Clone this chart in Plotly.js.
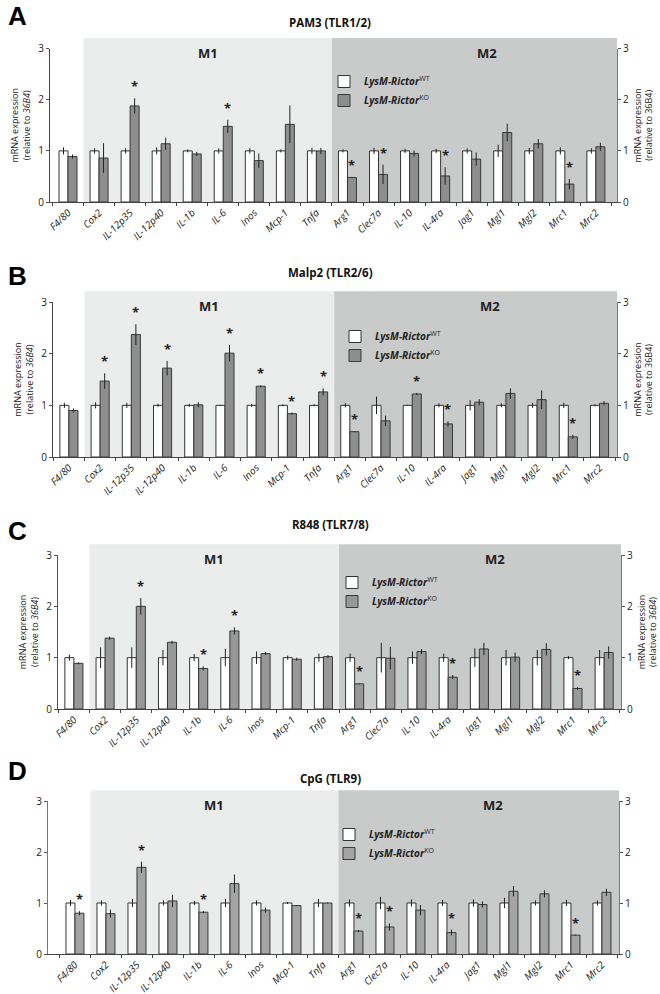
<!DOCTYPE html>
<html>
<head>
<meta charset="utf-8">
<script src="https://cdn.plot.ly/plotly-3.0.1.min.js"></script>
<style>
body { margin: 0; background: #fff; }
#chart { width: 660px; height: 994px; }
</style>
</head>
<body>
<div id="chart"></div>
<script>
/* genes on the x axis, F4/80 + M1 markers, then M2 markers */
var genes = ['F4/80', 'Cox2', 'IL-12p35', 'IL-12p40', 'IL-1b', 'IL-6', 'Inos', 'Mcp-1', 'Tnfa',
             'Arg1', 'Clec7a', 'IL-10', 'IL-4ra', 'Jag1', 'Mgl1', 'Mgl2', 'Mrc1', 'Mrc2'];

/* WT is the reference, always 1 */
var wtMean = [1, 1, 1, 1, 1, 1, 1, 1, 1, 1, 1, 1, 1, 1, 1, 1, 1, 1];

/* A - PAM3 (TLR1/2) */
var pam3WtErr = [0.07, 0.05, 0.05, 0.07, 0.03, 0.05, 0.05, 0.03, 0.06, 0.03, 0.06, 0.04, 0.04, 0.05, 0.12, 0.06, 0.07, 0.05];
var pam3Ko    = [0.89, 0.86, 1.88, 1.14, 0.94, 1.48, 0.81, 1.52, 1.00, 0.48, 0.54, 0.95, 0.51, 0.84, 1.36, 1.14, 0.35, 1.08];
var pam3KoErr = [0.04, 0.29, 0.15, 0.12, 0.04, 0.13, 0.14, 0.37, 0.06, 0.01, 0.19, 0.06, 0.17, 0.13, 0.17, 0.09, 0.10, 0.08];
var pam3Sig   = ['IL-12p35', 'IL-6', 'Arg1', 'Clec7a', 'IL-4ra', 'Mrc1'];

/* B - Malp2 (TLR2/6) */
var malp2WtErr = [0.05, 0.06, 0.05, 0.03, 0.03, 0.01, 0.03, 0.02, 0.02, 0.04, 0.17, 0.01, 0.04, 0.10, 0.04, 0.05, 0.05, 0.02];
var malp2Ko    = [0.90, 1.47, 2.37, 1.72, 1.01, 2.01, 1.37, 0.84, 1.26, 0.49, 0.70, 1.22, 0.64, 1.06, 1.23, 1.11, 0.39, 1.04];
var malp2KoErr = [0.04, 0.15, 0.20, 0.14, 0.05, 0.16, 0.02, 0.02, 0.07, 0.01, 0.10, 0.02, 0.05, 0.06, 0.10, 0.18, 0.04, 0.04];
var malp2Sig   = ['Cox2', 'IL-12p35', 'IL-12p40', 'IL-6', 'Inos', 'Mcp-1', 'Tnfa', 'Arg1', 'IL-10', 'IL-4ra', 'Mrc1'];

/* C - R848 (TLR7/8) */
var r848WtErr = [0.06, 0.20, 0.20, 0.15, 0.07, 0.17, 0.12, 0.04, 0.08, 0.08, 0.29, 0.12, 0.08, 0.18, 0.15, 0.15, 0.03, 0.15];
var r848Ko    = [0.89, 1.38, 2.00, 1.30, 0.79, 1.52, 1.08, 0.97, 1.02, 0.49, 0.99, 1.12, 0.62, 1.17, 1.01, 1.16, 0.40, 1.10];
var r848KoErr = [0.02, 0.03, 0.16, 0.03, 0.04, 0.07, 0.03, 0.03, 0.03, 0.01, 0.22, 0.05, 0.04, 0.12, 0.09, 0.12, 0.03, 0.12];
var r848Sig   = ['IL-12p35', 'IL-1b', 'IL-6', 'Arg1', 'IL-4ra', 'Mrc1'];

/* D - CpG (TLR9) */
var cpgWtErr = [0.06, 0.05, 0.08, 0.05, 0.04, 0.08, 0.05, 0.02, 0.08, 0.07, 0.12, 0.07, 0.06, 0.07, 0.10, 0.05, 0.06, 0.05];
var cpgKo    = [0.80, 0.79, 1.70, 1.04, 0.82, 1.38, 0.86, 0.95, 1.00, 0.45, 0.53, 0.86, 0.42, 0.97, 1.23, 1.18, 0.37, 1.21];
var cpgKoErr = [0.04, 0.08, 0.11, 0.12, 0.02, 0.18, 0.05, 0.01, 0.01, 0.02, 0.07, 0.10, 0.06, 0.06, 0.10, 0.07, 0.01, 0.07];
var cpgSig   = ['F4/80', 'IL-12p35', 'IL-1b', 'Arg1', 'Clec7a', 'IL-4ra', 'Mrc1'];

var W = 660, H = 994;
var FONT = 'Open Sans, Liberation Sans, sans-serif';
var titleL = 'mRNA expression<br>(relative to <i>36B4</i>)';
var titleR = 'mRNA expression<br>(relative to 36B4)';

/* page geometry in pixels: y of tick 3, y of tick 0, left/right axis x */
var panels = [
    { letter: 'A', title: 'PAM3 (TLR1/2)', wtErr: pam3WtErr, ko: pam3Ko, koErr: pam3KoErr, sig: pam3Sig,
      titleY: 23, letterY: 0, top3: 48.7, zero: 202, left: 50, right: 617, range: [-0.58, 17.68],
      legX: 324, legY: 67, yTitleL: titleL, yTitleR: titleR, koColor: '#8e8e8e', axColor: '#444' },
    { letter: 'B', title: 'Malp2 (TLR2/6)', wtErr: malp2WtErr, ko: malp2Ko, koErr: malp2KoErr, sig: malp2Sig,
      titleY: 272, letterY: 260, top3: 302, zero: 457, left: 53, right: 617, range: [-0.51, 17.56],
      legX: 335, legY: 322, yTitleL: titleL, yTitleR: titleR, koColor: '#8e8e8e', axColor: '#444' },
    { letter: 'C', title: 'R848 (TLR7/8)', wtErr: r848WtErr, ko: r848Ko, koErr: r848KoErr, sig: r848Sig,
      titleY: 524, letterY: 515, top3: 555, zero: 709, left: 58, right: 621, range: [-0.51, 17.54],
      legX: 332, legY: 568, yTitleL: titleL, yTitleR: titleL, koColor: '#989898', axColor: '#555' },
    { letter: 'D', title: 'CpG (TLR9)', wtErr: cpgWtErr, ko: cpgKo, koErr: cpgKoErr, sig: cpgSig,
      titleY: 778, letterY: 755, top3: 801, zero: 954, left: 48, right: 619, range: [-0.87, 17.55],
      legX: 329, legY: 820, yTitleL: null, yTitleR: null, koColor: '#a4a4a4', axColor: '#777' }
];

var data = [];
var shapes = [];
var annotations = [];
var layout = {
    width: W,
    height: H,
    margin: { l: 0, r: 0, t: 0, b: 0 },
    paper_bgcolor: '#fff',
    plot_bgcolor: 'rgba(0,0,0,0)',
    font: { family: FONT, color: '#222' },
    barmode: 'group',
    bargap: 0.42,
    bargroupgap: 0
};

function yAxis(extra) {
    var ax = {
        range: [0, 3],
        dtick: 1,
        ticks: 'outside',
        ticklen: 3,
        tickcolor: '#555',
        showline: true,
        linecolor: '#555',
        showgrid: false,
        zeroline: false,
        tickfont: { size: 10 },
        fixedrange: true
    };
    for (var key in extra) ax[key] = extra[key];
    return ax;
}

for (var k = 0; k < panels.length; k++) {
    var p = panels[k];
    var n = k === 0 ? '' : String(k + 1);
    var xId = 'x' + n;
    var yId = 'y' + n;
    var yRId = 'y' + (k + 5);
    var legId = 'legend' + n;

    data.push({
        type: 'bar',
        name: '<b><i>LysM-Rictor</i></b><sup>WT</sup>',
        x: genes,
        y: wtMean,
        xaxis: xId,
        yaxis: yId,
        legend: legId,
        marker: { color: '#ffffff', line: { color: '#333', width: 1 } },
        error_y: { type: 'data', array: p.wtErr, color: '#222', thickness: 1, width: 0 },
        hoverinfo: 'skip'
    });
    data.push({
        type: 'bar',
        name: '<b><i>LysM-Rictor</i></b><sup>KO</sup>',
        x: genes,
        y: p.ko,
        xaxis: xId,
        yaxis: yId,
        legend: legId,
        marker: { color: p.koColor, line: { color: '#3a3a3a', width: 1 } },
        error_y: { type: 'data', array: p.koErr, color: '#222', thickness: 1, width: 0 },
        hoverinfo: 'skip'
    });
    /* the right-hand axis only shows up if something sits on it */
    data.push({
        type: 'scatter',
        mode: 'markers',
        x: genes,
        y: wtMean,
        xaxis: xId,
        yaxis: yRId,
        marker: { opacity: 0 },
        showlegend: false,
        hoverinfo: 'skip'
    });

    layout['xaxis' + n] = {
        domain: [p.left / W, p.right / W],
        anchor: yId,
        type: 'category',
        range: p.range,
        tickson: 'boundaries',
        ticks: 'outside',
        ticklen: 3,
        tickcolor: '#444',
        showline: true,
        linecolor: '#444',
        linewidth: 1,
        tickangle: -45,
        tickfont: { size: 10, style: 'italic', color: '#222' },
        showgrid: false,
        zeroline: false,
        fixedrange: true
    };
    layout['yaxis' + n] = yAxis({
        domain: [1 - p.zero / H, 1 - p.top3 / H],
        anchor: xId,
        linecolor: p.axColor
    });
    layout['yaxis' + (k + 5)] = yAxis({
        overlaying: yId,
        side: 'right',
        anchor: xId,
        linecolor: '#777'
    });
    if (p.yTitleL) {
        layout['yaxis' + n].title = { text: p.yTitleL, font: { size: 9 }, standoff: 6 };
        layout['yaxis' + (k + 5)].title = { text: p.yTitleR, font: { size: 9 }, standoff: 6 };
    }
    layout[legId] = {
        x: p.legX / W,
        y: 1 - p.legY / H,
        xanchor: 'left',
        yanchor: 'top',
        bgcolor: 'rgba(0,0,0,0)',
        font: { size: 10, family: FONT, color: '#222' },
        tracegroupgap: 0
    };

    /* M1 and M2 backgrounds */
    shapes.push({ type: 'rect', layer: 'below', xref: xId, yref: yId + ' domain',
        x0: 0.5, x1: 8.5, y0: 0, y1: 1.07, fillcolor: '#ebeded', line: { width: 0 } });
    shapes.push({ type: 'rect', layer: 'below', xref: xId, yref: yId + ' domain',
        x0: 8.5, x1: p.range[1], y0: 0, y1: 1.07, fillcolor: '#c9caca', line: { width: 0 } });

    annotations.push({ xref: xId, yref: yId + ' domain', x: 4.5, y: 0.975, yanchor: 'middle',
        text: '<b>M1</b>', showarrow: false, font: { size: 13, color: '#222' } });
    annotations.push({ xref: xId, yref: yId + ' domain', x: 13.5, y: 0.975, yanchor: 'middle',
        text: '<b>M2</b>', showarrow: false, font: { size: 13, color: '#222' } });

    annotations.push({ xref: 'paper', yref: 'paper', x: 330 / W, y: 1 - p.titleY / H,
        xanchor: 'center', yanchor: 'middle',
        text: '<b>' + p.title + '</b>', showarrow: false, font: { size: 11.5, color: '#111' } });
    annotations.push({ xref: 'paper', yref: 'paper', x: 17 / W, y: 1 - p.letterY / H,
        xanchor: 'center', yanchor: 'top', borderpad: 0,
        text: '<b>' + p.letter + '</b>', showarrow: false,
        font: { size: 26, color: '#000', family: 'Liberation Sans, Arial, sans-serif' } });

    /* significance stars above the KO bars */
    for (var s = 0; s < p.sig.length; s++) {
        var gi = genes.indexOf(p.sig[s]);
        annotations.push({
            xref: xId, yref: yId,
            x: p.sig[s],
            y: p.ko[gi] + p.koErr[gi],
            xshift: 4.5,
            yshift: 1,
            yanchor: 'bottom',
            text: '<b>*</b>',
            showarrow: false,
            font: { size: 13, color: '#222' }
        });
    }
}

layout.shapes = shapes;
layout.annotations = annotations;

var config = {
    displayModeBar: false,
    staticPlot: true
};

Plotly.newPlot('chart', data, layout, config);
</script>
</body>
</html>
